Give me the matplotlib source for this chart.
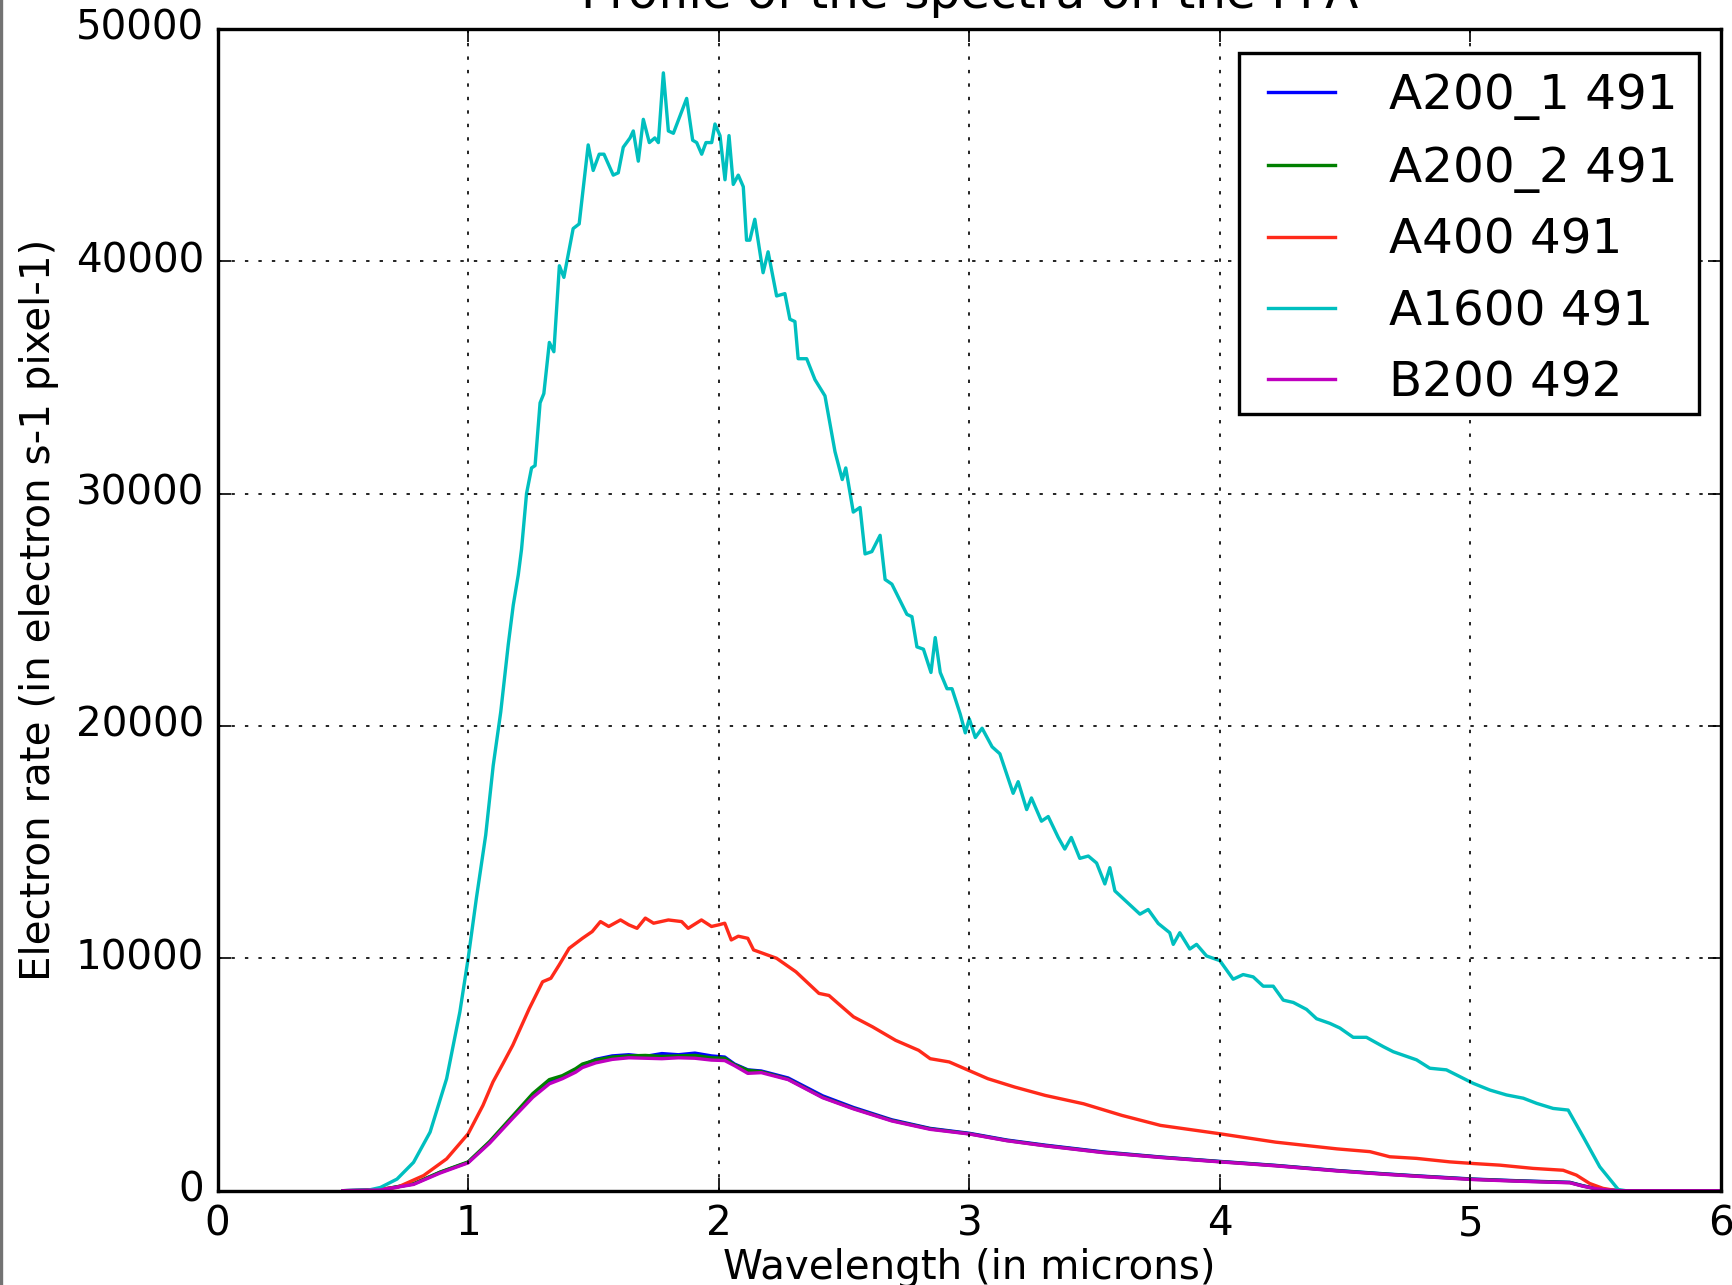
import numpy as np
import matplotlib
matplotlib.use("Agg")
import matplotlib.pyplot as plt
from matplotlib.patches import Rectangle

# A1600 grism, order 491 (wavelength in microns, rate in 1e3 e-/s/pixel)
wl_a1600 = [
    0.50, 0.60, 0.65, 0.716, 0.782, 0.848, 0.914, 0.967, 1.000, 1.033,
    1.07, 1.10, 1.13, 1.16, 1.18, 1.20, 1.213, 1.233, 1.253, 1.267,
    1.287, 1.302, 1.324, 1.342, 1.364, 1.382, 1.419, 1.443, 1.479, 1.499,
    1.523, 1.542, 1.579, 1.599, 1.619, 1.646, 1.659, 1.679, 1.699, 1.723,
    1.745, 1.759, 1.779, 1.799, 1.819, 1.872, 1.896, 1.912, 1.932, 1.949,
    1.972, 1.985, 2.005, 2.025, 2.041, 2.058, 2.078, 2.098, 2.111, 2.124,
    2.144, 2.177, 2.197, 2.231, 2.264, 2.284, 2.304, 2.317, 2.351, 2.384,
    2.424, 2.464, 2.493, 2.507, 2.537, 2.564, 2.584, 2.611, 2.644, 2.664,
    2.691, 2.751, 2.771, 2.791, 2.817, 2.847, 2.864, 2.884, 2.911, 2.931,
    2.964, 2.984, 3.000, 3.024, 3.051, 3.091, 3.122, 3.175, 3.195, 3.229,
    3.248, 3.288, 3.315, 3.355, 3.381, 3.407, 3.441, 3.475, 3.508, 3.541,
    3.561, 3.581, 3.621, 3.681, 3.714, 3.754, 3.800, 3.814, 3.840, 3.880,
    3.907, 3.947, 4.000, 4.053, 4.093, 4.133, 4.173, 4.213, 4.253, 4.293,
    4.346, 4.386, 4.439, 4.479, 4.532, 4.585, 4.652, 4.692, 4.785, 4.838,
    4.904, 4.971, 5.011, 5.078, 5.144, 5.211, 5.264, 5.330, 5.390, 5.450,
    5.516, 5.590, 5.620, 6.000,
]
rate_a1600 = [
    0.0, 0.02, 0.14, 0.50, 1.22, 2.52, 4.82, 7.70, 10.0, 12.6,
    15.3, 18.3, 20.6, 23.5, 25.2, 26.5, 27.6, 30.0, 31.1, 31.2,
    33.9, 34.3, 36.5, 36.1, 39.8, 39.3, 41.4, 41.6, 45.0, 43.9,
    44.6, 44.6, 43.7, 43.8, 44.9, 45.3, 45.6, 44.3, 46.1, 45.1,
    45.3, 45.1, 48.1, 45.6, 45.5, 47.0, 45.2, 45.1, 44.6, 45.1,
    45.1, 45.9, 45.4, 43.5, 45.4, 43.3, 43.7, 43.2, 40.9, 40.9,
    41.8, 39.5, 40.4, 38.5, 38.6, 37.5, 37.4, 35.8, 35.8, 34.9,
    34.2, 31.8, 30.6, 31.1, 29.2, 29.4, 27.4, 27.5, 28.2, 26.3,
    26.1, 24.8, 24.7, 23.4, 23.3, 22.3, 23.8, 22.3, 21.6, 21.6,
    20.5, 19.7, 20.3, 19.5, 19.9, 19.1, 18.8, 17.1, 17.6, 16.4,
    16.9, 15.9, 16.1, 15.2, 14.7, 15.2, 14.3, 14.4, 14.1, 13.2,
    13.9, 12.9, 12.5, 11.9, 12.1, 11.5, 11.1, 10.6, 11.1, 10.4,
    10.6, 10.1, 9.9, 9.1, 9.3, 9.2, 8.8, 8.8, 8.2, 8.1,
    7.8, 7.4, 7.2, 7.0, 6.6, 6.6, 6.2, 5.98, 5.63, 5.27,
    5.20, 4.84, 4.62, 4.33, 4.12, 3.98, 3.76, 3.54, 3.47, 2.32,
    1.03, 0.05, 0.0, 0.0,
]

# A400 grism, order 491
wl_a400 = [
    0.50, 0.584, 0.716, 0.822, 0.914, 1.000, 1.059, 1.099, 1.139, 1.178,
    1.211, 1.244, 1.297, 1.330, 1.363, 1.403, 1.456, 1.495, 1.528, 1.561,
    1.608, 1.641, 1.674, 1.707, 1.740, 1.799, 1.852, 1.878, 1.931, 1.971,
    2.000, 2.024, 2.050, 2.078, 2.116, 2.139, 2.231, 2.308, 2.400, 2.440,
    2.476, 2.538, 2.614, 2.706, 2.798, 2.844, 2.920, 2.997, 3.074, 3.181,
    3.303, 3.456, 3.609, 3.763, 4.000, 4.222, 4.467, 4.599, 4.678, 4.785,
    4.918, 5.011, 5.117, 5.250, 5.370, 5.423, 5.476, 5.529, 5.583, 6.000,
]
rate_a400 = [
    0.0, 0.0, 0.14, 0.65, 1.37, 2.45, 3.67, 4.68, 5.47, 6.26,
    7.05, 7.84, 8.99, 9.14, 9.71, 10.43, 10.86, 11.15, 11.58, 11.37,
    11.65, 11.44, 11.29, 11.73, 11.51, 11.65, 11.58, 11.29, 11.65, 11.37,
    11.44, 11.51, 10.79, 10.95, 10.86, 10.36, 10.0, 9.42, 8.49, 8.40,
    8.06, 7.48, 7.05, 6.47, 6.04, 5.68, 5.54, 5.18, 4.82, 4.46,
    4.10, 3.74, 3.24, 2.81, 2.45, 2.09, 1.80, 1.68, 1.46, 1.39,
    1.24, 1.17, 1.10, 0.96, 0.88, 0.67, 0.31, 0.10, 0.0, 0.0,
]

# A200_1, A200_2 (order 491) and B200 (order 492) share one wavelength grid
wl_200 = [
    0.50, 0.65, 0.782, 0.888, 1.000, 1.086, 1.178, 1.258, 1.324, 1.376,
    1.429, 1.456, 1.509, 1.575, 1.641, 1.707, 1.773, 1.839, 1.905, 1.971,
    2.024, 2.063, 2.116, 2.170, 2.277, 2.415, 2.538, 2.691, 2.844, 3.000,
    3.150, 3.303, 3.533, 3.763, 4.000, 4.222, 4.467, 4.652, 4.785, 5.011,
    5.184, 5.397, 5.450, 5.503, 5.556, 5.600, 6.000,
]
rate_a200_1 = [
    0.0, 0.04, 0.29, 0.79, 1.22, 2.09, 3.17, 4.10, 4.70, 4.90,
    5.20, 5.40, 5.65, 5.80, 5.85, 5.78, 5.90, 5.85, 5.92, 5.80,
    5.75, 5.45, 5.20, 5.15, 4.85, 4.08, 3.58, 3.05, 2.68, 2.47,
    2.18, 1.96, 1.67, 1.45, 1.26, 1.09, 0.87, 0.73, 0.64, 0.50,
    0.43, 0.36, 0.21, 0.09, 0.03, 0.0, 0.0,
]
rate_a200_2 = [
    0.0, 0.04, 0.30, 0.80, 1.24, 2.12, 3.22, 4.18, 4.78, 4.95,
    5.25, 5.45, 5.62, 5.75, 5.80, 5.82, 5.78, 5.80, 5.82, 5.72,
    5.70, 5.42, 5.18, 5.12, 4.80, 4.02, 3.54, 3.02, 2.66, 2.45,
    2.16, 1.94, 1.65, 1.44, 1.25, 1.08, 0.86, 0.72, 0.63, 0.49,
    0.42, 0.35, 0.20, 0.08, 0.02, 0.0, 0.0,
]
rate_b200 = [
    0.0, 0.03, 0.27, 0.76, 1.20, 2.05, 3.12, 4.02, 4.60, 4.82,
    5.10, 5.30, 5.50, 5.65, 5.72, 5.70, 5.68, 5.72, 5.70, 5.62,
    5.60, 5.38, 5.05, 5.08, 4.78, 4.00, 3.52, 3.00, 2.64, 2.44,
    2.15, 1.93, 1.64, 1.43, 1.24, 1.07, 0.85, 0.71, 0.62, 0.48,
    0.41, 0.34, 0.19, 0.08, 0.02, 0.0, 0.0,
]

labels = ["A200_1 491", "A200_2 491", "A400 491", "A1600 491", "B200 492"]
colors = ["b", "g", "#ff2a1a", "c", "m"]

plt.style.use("classic")
plt.rcParams["font.family"] = ["DejaVu Sans"]

dpi = 242.4
fig = plt.figure(figsize=(1732 / dpi, 1285 / dpi), dpi=dpi, facecolor="white")
ax = fig.add_axes([217.6 / 1732, 1 - 1190.7 / 1285, (1721 - 217.6) / 1732, (1190.7 - 28.7) / 1285])

series = [
    (wl_200, rate_a200_1),
    (wl_200, rate_a200_2),
    (wl_a400, rate_a400),
    (wl_a1600, rate_a1600),
    (wl_200, rate_b200),
]
for (wl, rate), lab, col in zip(series, labels, colors):
    ax.plot(wl, np.array(rate) * 1000, color=col, lw=1.0, label=lab)

ax.set_xlim(0, 6)
ax.set_ylim(0, 50000)
ax.set_xticks(range(0, 7))
ax.set_yticks(range(0, 50001, 10000))
ax.grid(True)
ax.set_title("Profile of the spectra on the FPA", pad=6)
ax.set_xlabel("Wavelength (in microns)", labelpad=1.0)
ax.set_ylabel("Electron rate (in electron s-1 pixel-1)")

leg = ax.legend(loc="upper right")
# draw the legend box separately so it sits a little tighter under the last row
leg.get_frame().set_visible(False)
ax.add_patch(Rectangle((0.6794, 0.6684), 0.9854 - 0.6794, 0.9791 - 0.6684,
                       transform=ax.transAxes, facecolor="white", edgecolor="black",
                       lw=1.0, zorder=4.5))

# thin frame line along the left edge of the figure
fig.add_artist(plt.Line2D([0.0008, 0.0008], [0, 1], transform=fig.transFigure, color="0.45", lw=1.0))

fig.savefig("out.png", dpi=dpi, facecolor="white")
